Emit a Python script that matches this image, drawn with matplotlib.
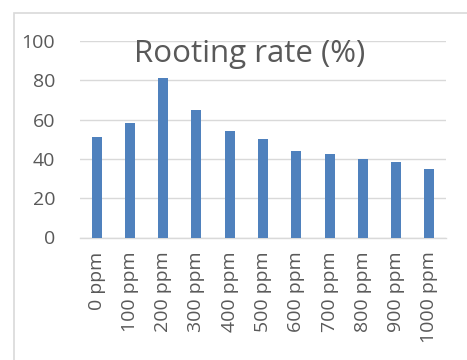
import matplotlib.pyplot as plt
from matplotlib.patches import Rectangle

# Rooting rate by concentration
doses = ['0 ppm', '100 ppm', '200 ppm', '300 ppm', '400 ppm', '500 ppm',
         '600 ppm', '700 ppm', '800 ppm', '900 ppm', '1000 ppm']
rooting_rate = [51, 58.5, 81, 65, 54, 50, 44, 42.5, 40, 38.5, 35]

BAR = '#4f81bd'
GRID = '#d9d9d9'
TEXT = '#595959'

plt.rcParams['font.family'] = ['Open Sans', 'DejaVu Sans']

W, H = 467, 360
fig = plt.figure(figsize=(W / 100, H / 100), dpi=100)

# chart frame
fig.patches.append(Rectangle((14 / W, -0.1), 1.2, 1 - 13 / H + 0.1,
                             transform=fig.transFigure, fill=False,
                             edgecolor=GRID, linewidth=1.2))

ax = fig.add_axes([80 / W, 1 - 237.5 / H, 366 / W, (237.5 - 41) / H])
x = range(len(doses))
ax.bar(x, rooting_rate, width=0.3, color=BAR, zorder=3)

ax.set_xlim(-0.5, len(doses) - 0.5)
ax.set_ylim(0, 100)
ax.set_yticks(range(0, 101, 20))
ax.yaxis.grid(True, color=GRID, linewidth=1, zorder=0)
ax.set_xticks(list(x))
ax.set_xticklabels(doses, rotation=90, fontsize=14, color=TEXT)
ax.tick_params(axis='y', labelsize=14, labelcolor=TEXT, length=0, pad=18)
ax.tick_params(axis='x', length=0, pad=10)
for side in ['top', 'right', 'left']:
    ax.spines[side].set_visible(False)
ax.spines['bottom'].set_color(GRID)
ax.spines['bottom'].set_linewidth(1)

fig.text(250 / W, 1 - 54 / H, 'Rooting rate (%)', ha='center', va='center',
         fontsize=22.5, color=TEXT)

fig.savefig('out.png', dpi=100)
